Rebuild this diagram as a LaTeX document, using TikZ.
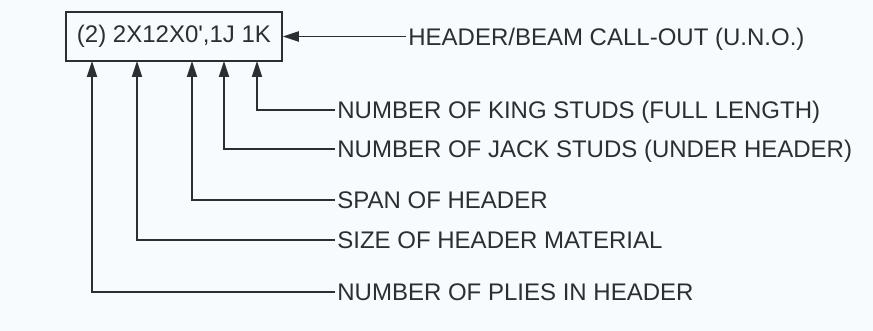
\documentclass[tikz,border=0pt]{standalone}
\usepackage{fontspec}
\newfontfamily\calloutfont{Liberation Sans}
\usetikzlibrary{arrows.meta,positioning}
\definecolor{hdInk}{HTML}{2A2F31}
\definecolor{hdPaper}{HTML}{F8FBFD}
\tikzset{
 callout/.style={font=\calloutfont\fontsize{12}{14}\selectfont,text=hdInk,line cap=butt,line join=miter},
 tagbox/.style={draw=hdInk,line width=.75pt,minimum width=108pt,minimum height=24.5pt,inner sep=0pt},
 meaning/.style={anchor=west,inner xsep=1pt,inner ysep=0pt,text height=8.6pt,text depth=0pt},
 leader/.style={draw=hdInk,line width=.9pt,-{Triangle[length=8pt,width=5pt]}}
}
\begin{document}
\begin{tikzpicture}[callout,x=.5pt,y=-.5pt]
 \fill[hdPaper] (0,0) rectangle (873,331);
 \useasboundingbox (0,0) rectangle (873,331);
 \node[tagbox] (tag) at (174,36.5) {(2) 2X12X0',1J 1K};
 % tips on the lower edge of the call-out
 \coordinate (tipPly) at (92,61); \coordinate (tipSize) at (137,61);
 \coordinate (tipSpan) at (192,61); \coordinate (tipJack) at (224,61);
 \coordinate (tipKing) at (257,61);
 \node[meaning] (beam) at (406,36.5) {HEADER/BEAM CALL-OUT (U.N.O.)};
 \node[meaning] (king) at (335,110) {NUMBER OF KING STUDS (FULL LENGTH)};
 \node[meaning] (jack) at (335,149) {NUMBER OF JACK STUDS (UNDER HEADER)};
 \node[meaning] (span) at (335,200) {SPAN OF HEADER};
 \node[meaning] (size) at (335,240) {SIZE OF HEADER MATERIAL};
 \node[meaning] (plies) at (335,292) {NUMBER OF PLIES IN HEADER};
 \draw[leader] (beam.west) -- (tag.east);
 \draw[leader] (king.west) -| (tipKing);
 \draw[leader] (jack.west) -| (tipJack);
 \draw[leader] (span.west) -| (tipSpan);
 \draw[leader] (size.west) -| (tipSize);
 \draw[leader] (plies.west) -| (tipPly);
\end{tikzpicture}
\end{document}
